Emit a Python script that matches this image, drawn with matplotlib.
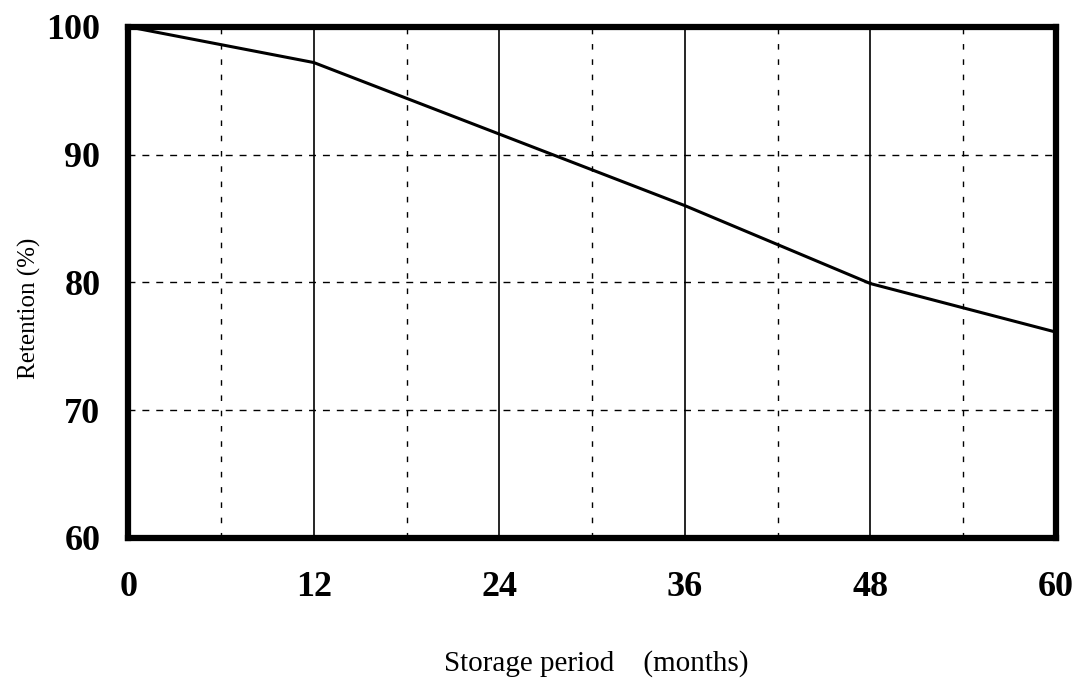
import numpy as np
import matplotlib.pyplot as plt

# storage period (months) vs retention (%)
months = [0, 12, 24, 36, 48, 60]
retention = [100, 97.2, 91.6, 86.0, 79.9, 76.1]

xticks = [0, 12, 24, 36, 48, 60]
xminor = [6, 18, 30, 42, 54]
yticks = [60, 70, 80, 90, 100]

plt.rcParams['font.family'] = ['Liberation Serif', 'DejaVu Serif']

fig = plt.figure(figsize=(10.77, 6.86), dpi=100)
ax = fig.add_axes([0.119, 0.216, 0.8615, 0.745])

ax.plot(months, retention, color='black', lw=2.2, zorder=3)

ax.set_xlim(0, 60)
ax.set_ylim(60, 100)
ax.set_xticks(xticks)
ax.set_xticks(xminor, minor=True)
ax.set_yticks(yticks)

# grid: solid at major x, dashed at minor x and y
for x in xticks[1:-1]:
    ax.axvline(x, color='black', lw=1.2, zorder=1)
for x in xminor:
    ax.axvline(x, color='black', lw=1.0, ls=(0, (4, 7)), zorder=1)
for y in yticks[1:-1]:
    ax.axhline(y, color='black', lw=1.0, ls=(0, (5, 5)), zorder=1)

for s in ax.spines.values():
    s.set_linewidth(4.5)
    s.set_color('black')

ax.tick_params(which='both', length=0)
ax.tick_params(axis='x', pad=24, labelsize=26)
ax.tick_params(axis='y', pad=20, labelsize=26)
for lab in ax.get_xticklabels() + ax.get_yticklabels():
    lab.set_fontweight('bold')

ax.set_xlabel('Storage period\u3000(months)', fontsize=21,
              family=['Liberation Serif', 'Noto Sans CJK SC'])
ax.xaxis.set_label_coords(0.505, -0.22)
ax.set_ylabel('Retention (%)', fontsize=18)
ax.yaxis.set_label_coords(-0.094, 0.45)

fig.savefig('out.png', dpi=100)
